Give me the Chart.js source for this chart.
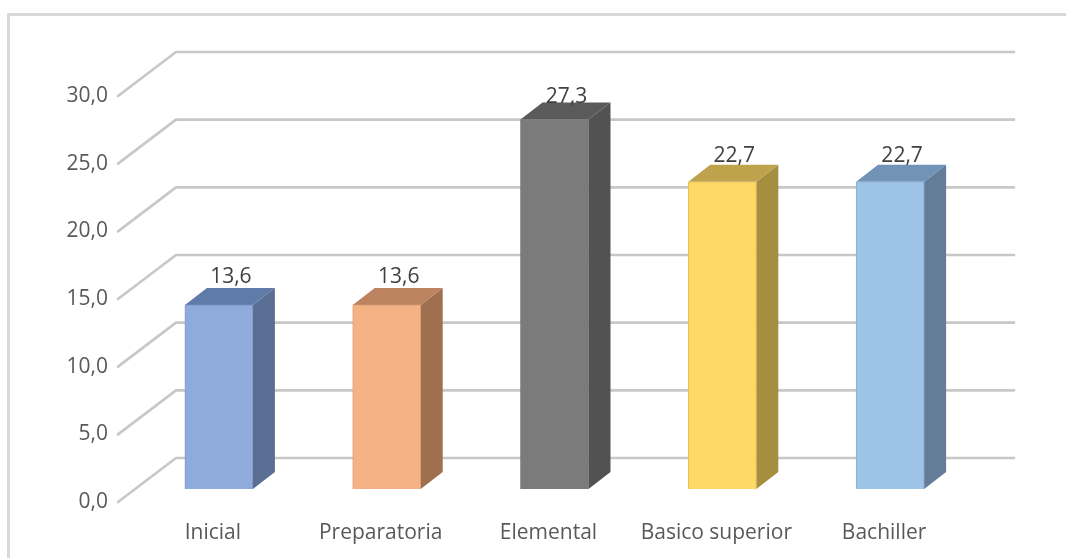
<!DOCTYPE html>
<html>
<head>
<meta charset="utf-8">
<style>
  html, body { margin: 0; background: #fff; }
  #wrap { position: relative; width: 1066px; height: 559px; }
  #marco { position: absolute; left: 7px; top: 13px; right: 0; bottom: 1px;
           border-left: 3px solid #d9d9d9; border-top: 3px solid #d9d9d9; }
</style>
</head>
<body>
<div id="wrap">
  <div id="marco"></div>
  <canvas id="grafico_niveles" width="1066" height="559"></canvas>
</div>
<script src="https://cdn.jsdelivr.net/npm/chart.js@4/dist/chart.umd.min.js"></script>
<script>
const categorias = ['Inicial', 'Preparatoria', 'Elemental', 'Basico superior', 'Bachiller'];
const valores = [13.6, 13.6, 27.3, 22.7, 22.7];
const coloresFrente = ['#8faadc', '#f4b183', '#7b7b7b', '#ffd966', '#9dc3e6'];
const coloresBorde = ['#7f99c9', '#dca075', '#6e6e6e', '#e6c25a', '#8cafd0'];
const coloresLado = ['#5a6d92', '#9f704f', '#525252', '#a68e3f', '#637c98'];
const coloresTapa = ['#5f7ba8', '#bc8360', '#5a5a5a', '#bfa24c', '#7093b6'];

// desplazamientos del dibujo "3D"
const fondoX = 58, fondoY = -44;     // pared del fondo
const ladoX = 22, ladoY = -17;       // profundidad de cada barra
const subeBarras = -13;              // las barras van delante de la pared
const finLineas = 1014;
const ajusteValorY = [-28, -28, -23, -26, -26];

function fmt(v) {
    return v.toFixed(1).replace('.', ',');
}

const tresD = {
    id: 'tresD',
    beforeDatasetsDraw(chart) {
        const c = chart.ctx;
        const y = chart.scales.y;
        c.save();
        c.strokeStyle = '#c8c8c8';
        c.lineWidth = 2.7;
        c.lineJoin = 'round';
        c.lineCap = 'round';
        y.ticks.forEach(function (t) {
            const py = y.getPixelForValue(t.value);
            c.beginPath();
            c.moveTo(chart.chartArea.left - 17, py);
            c.lineTo(chart.chartArea.left - 17 + fondoX, py + fondoY);
            c.lineTo(finLineas, py + fondoY);
            c.stroke();
        });
        c.restore();

        // caras de las barras
        c.save();
        c.translate(0, subeBarras);
        chart.getDatasetMeta(0).data.forEach(function (bar, i) {
            const l = bar.x - bar.width / 2, r = bar.x + bar.width / 2;
            c.fillStyle = coloresLado[i];
            c.beginPath();
            c.moveTo(r, bar.y);
            c.lineTo(r + ladoX, bar.y + ladoY);
            c.lineTo(r + ladoX, bar.base + ladoY);
            c.lineTo(r, bar.base);
            c.closePath();
            c.fill();
            c.fillStyle = coloresTapa[i];
            c.beginPath();
            c.moveTo(l, bar.y);
            c.lineTo(l + ladoX, bar.y + ladoY);
            c.lineTo(r + ladoX, bar.y + ladoY);
            c.lineTo(r, bar.y);
            c.closePath();
            c.fill();
        });
        c.restore();

        c.save();
        c.translate(0, subeBarras);
    },
    afterDatasetsDraw(chart) {
        const c = chart.ctx;
        c.restore();

        c.save();
        c.font = '21px "Open Sans"';
        c.textAlign = 'center';
        c.textBaseline = 'middle';
        c.fillStyle = '#404040';
        chart.getDatasetMeta(0).data.forEach(function (bar, i) {
            c.fillText(fmt(valores[i]), bar.x + 12, bar.y + subeBarras + ajusteValorY[i]);
        });
        c.restore();
    }
};

new Chart(document.getElementById('grafico_niveles'), {
    type: 'bar',
    data: {
        labels: categorias,
        datasets: [{
            label: 'Niveles',
            data: valores,
            backgroundColor: coloresFrente,
            borderColor: coloresBorde,
            borderWidth: 1,
            barThickness: 68
        }]
    },
    options: {
        responsive: false,
        animation: false,
        layout: { padding: { top: 96, right: 92, bottom: 0, left: 0 } },
        plugins: { legend: { display: false }, tooltip: { enabled: false }, title: { display: false } },
        scales: {
            x: {
                grid: { display: false, drawTicks: false },
                border: { display: false },
                ticks: {
                    autoSkip: false,
                    maxRotation: 0,
                    padding: 18,
                    labelOffset: -6,
                    color: '#595959',
                    font: { family: '"Open Sans"', size: 21 }
                },
                afterFit(s) { s.height = 57; }
            },
            y: {
                min: 0,
                max: 30,
                grid: { display: false, drawTicks: false },
                border: { display: false },
                ticks: {
                    stepSize: 5,
                    padding: 27,
                    color: '#595959',
                    font: { family: '"Open Sans"', size: 21 },
                    callback: function (v) { return fmt(v); }
                },
                afterFit(s) { s.width = 135; }
            }
        }
    },
    plugins: [tresD]
});
</script>
</body>
</html>
